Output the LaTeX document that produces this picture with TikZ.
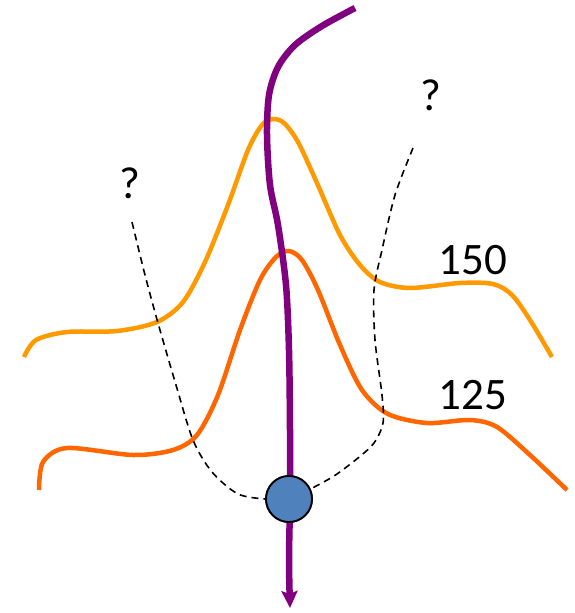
\documentclass[tikz,border=0pt]{standalone}
\usepackage{fontspec}
\setmainfont{Carlito}
\usetikzlibrary{arrows.meta}
\definecolor{ambercurve}{RGB}{255,153,0}
\definecolor{orangecurve}{RGB}{255,102,0}
\definecolor{pathpurple}{RGB}{128,0,128}
\definecolor{stateblue}{RGB}{79,129,189}
\tikzset{
    level/.style={line width=4.5pt},
    guess/.style={line width=1.6pt, dash pattern=on 7pt off 5pt},
    traj/.style={draw=pathpurple, line width=6.5pt, -{Stealth[length=17pt, width=16pt, inset=3pt]}},
    state/.style={circle, draw, fill=stateblue, line width=1.8pt, minimum size=46pt, inner sep=0pt},
    lbl/.style={font=\fontsize{45}{48}\selectfont, inner sep=0pt}
}

\begin{document}
\begin{tikzpicture}[x=1pt, y=-1pt]
    \useasboundingbox (0,0) rectangle (574,613);
    % level curves
    \draw[level, ambercurve] plot[smooth] coordinates {(24,357) (36,340) (67,332) (117,331) (157,322) (183,302) (205,262) (228,205) (248,150) (262,125) (273,119) (284,123) (298,142) (317,183) (340,235) (360,265) (380,282) (410,288) (460,283) (493,284) (512,295) (530,320) (552,357)};
    \draw[level, orangecurve] plot[smooth] coordinates {(39,490) (43,462) (67,448) (133,455) (173,450) (197,435) (218,395) (240,330) (260,280) (276,257) (289,251) (302,260) (318,290) (340,345) (362,390) (388,414) (427,423) (470,420) (497,427) (530,455) (567,490)};
    \node[state] (st) at (289,499) {};
    % guessed branches
    \draw[guess] plot[smooth] coordinates {(132,222) (145,275) (158,323) (176,385) (193,440) (212,472) (238,494) (st.west)};
    \draw[guess] plot[smooth] coordinates {(413,148) (395,195) (382,250) (374,290) (375,340) (382,395) (383,423) (374,443) (358,458) (334,476) (st.25)};
    % trajectory
    \draw[traj] plot[smooth] coordinates {(355,8) (322,26) (295,45) (278,67) (269,95) (267,135) (270,185) (278,225) (286,285) (289,350) (290,430) (290,499) (289,560) (290,608)};
    \node[state] (st2) at (st) {};
    \node[lbl] (q1) at (130,183) {?};
    \node[lbl] (q2) at (431,95) {?};
    \node[lbl] (l150) at (473,260) {150};
    \node[lbl] (l125) at (473,395) {125};
\end{tikzpicture}
\end{document}
